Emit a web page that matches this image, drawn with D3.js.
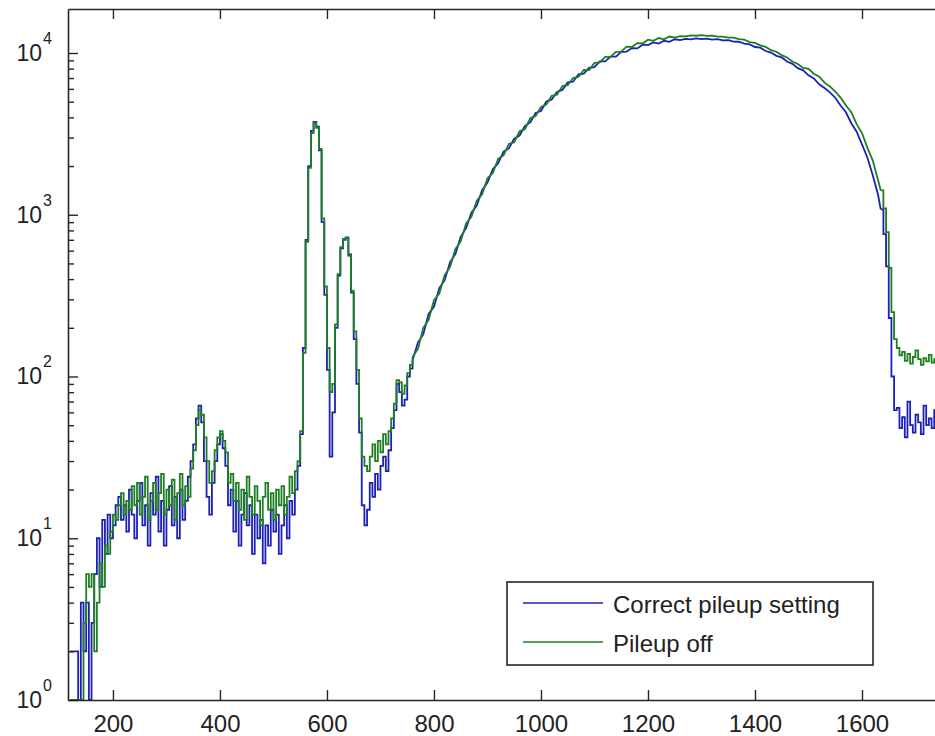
<!DOCTYPE html>
<html>
<head>
<meta charset="utf-8">
<script src="https://cdn.jsdelivr.net/npm/d3@7/dist/d3.min.js"></script>
<style>
  body { margin: 0; background: #fff; }
  svg { display: block; }
  text { font-family: Arial, "Liberation Sans", Helvetica, sans-serif; fill: #222; }
</style>
</head>
<body>
<svg id="chart" width="935" height="736"></svg>
<script>
// Channel bins: fine bins in the noisy low-energy part and the tail,
// coarser samples across the smooth continuum.
const lowBins  = d3.range(120, 760, 5);
const midBins  = d3.range(760, 1635, 10);
const tailBins = d3.range(1635, 1750, 5);

// Counts per bin, "Correct pileup setting"
const correctLow = [
  2, 2, 2, 1, 4, 2, 4, 1, 3, 6,
  10, 5, 13, 8, 14, 10, 12, 16, 18, 13,
  16, 11, 20, 14, 10, 17, 22, 12, 16, 9,
  19, 14, 24, 11, 17, 9, 15, 21, 12, 18,
  10, 20, 13, 17, 24, 30, 38, 55, 66, 52,
  30, 18, 14, 22, 30, 38, 44, 36, 28, 16,
  20, 11, 17, 9, 14, 19, 12, 16, 8, 14,
  10, 13, 7, 12, 9, 15, 11, 14, 8, 12,
  16, 10, 17, 14, 20, 28, 44, 150, 700, 2000,
  3300, 3750, 3500, 2500, 900, 320, 110, 32, 60, 200,
  420, 620, 700, 725, 560, 330, 170, 90, 45, 16,
  12, 15, 22, 18, 25, 20, 28, 32, 26, 35,
  48, 62, 90, 80, 66, 72, 100, 112
];
const correctMid = [
  126, 162, 182, 244, 270, 352, 394, 508, 570, 730,
  826, 1030, 1140, 1420, 1580, 1910, 2080, 2460, 2570, 2950,
  3090, 3540, 3720, 4260, 4380, 5010, 5150, 5740, 5910, 6580,
  6640, 7380, 7450, 8090, 8180, 8870, 8880, 9500, 9500, 10160,
  10200, 10720, 10680, 11250, 11200, 11640, 11430, 11900, 11720, 12160,
  12010, 12230, 12150, 12300, 12190, 12260, 12090, 12180, 11960, 11990,
  11760, 11740, 11410, 11290, 10890, 10780, 10290, 10060, 9600, 9390,
  8850, 8570, 8060, 7810, 7270, 6960, 6410, 6070, 5710, 5290,
  4740, 4300, 3680, 3260, 2720, 2260, 1760, 1330
];
const correctTail = [
  1080, 760, 480, 230, 100, 62, 64, 48, 56, 42,
  70, 50, 45, 58, 52, 44, 66, 50, 55, 48,
  62, 52, 50
];

// Counts per bin, "Pileup off"
const offLow = [
  1, 1, 1, 1, 1, 3, 6, 5, 6, 2,
  4, 7, 5, 9, 8, 11, 14, 13, 16, 19,
  14, 17, 15, 21, 16, 22, 14, 18, 24, 13,
  17, 22, 15, 19, 25, 14, 20, 16, 23, 13,
  19, 25, 16, 21, 18, 27, 35, 50, 62, 58,
  42, 30, 22, 26, 35, 42, 46, 40, 34, 22,
  25, 17, 22, 15, 20, 13, 24, 18, 14, 21,
  17, 12, 18, 22, 15, 19, 13, 20, 16, 21,
  14, 18, 24, 19, 26, 30, 46, 140, 680, 1950,
  3200, 3700, 3450, 2550, 950, 360, 150, 80, 90, 210,
  430, 630, 710, 720, 570, 340, 190, 110, 55, 32,
  28, 26, 32, 38, 30, 40, 34, 44, 38, 46,
  55, 68, 95, 92, 78, 88, 105, 118
];
const offMid = [
  132, 148, 200, 224, 296, 326, 424, 474, 612, 684,
  884, 970, 1222, 1340, 1680, 1810, 2220, 2330, 2740, 2810,
  3280, 3380, 3950, 4070, 4640, 4800, 5440, 5520, 6240, 6330,
  7010, 7110, 7870, 7840, 8680, 8760, 9450, 9470, 10160, 10200,
  10940, 10890, 11510, 11450, 12080, 11880, 12370, 12160, 12640, 12450,
  12720, 12680, 12850, 12780, 12900, 12760, 12810, 12620, 12640, 12450,
  12440, 12190, 12080, 11690, 11540, 11150, 10900, 10410, 10180, 9700,
  9390, 8860, 8560, 8090, 7990, 7450, 7130, 6560, 6210, 5780,
  5300, 4740, 4310, 3630, 3200, 2600, 2170, 1640
];
const offTail = [
  1413, 1096, 780, 470, 250, 170, 150, 135, 142, 125,
  138, 120, 132, 145, 128, 118, 130, 124, 136, 122,
  128, 132, 130
];

const seriesNames = ["Correct pileup setting", "Pileup off"];
const seriesColors = ["#1c20b4", "#1d7f22"];

const xTicks = [200, 400, 600, 800, 1000, 1200, 1400, 1600];
const yDecades = [1, 10, 100, 1000, 10000];
const yExponents = ["0", "1", "2", "3", "4"];

const series = [
  { low: correctLow, mid: correctMid, tail: correctTail },
  { low: offLow, mid: offMid, tail: offTail }
];

// ---- layout ----
const svg = d3.select("#chart");
const plotLeft = 68, plotTop = 9, plotBottom = 700, plotRight = 969;

const x = d3.scaleLinear().domain([116, 1800]).range([plotLeft, plotRight]);
const y = d3.scaleLog().domain([1, Math.pow(10, 4.272)]).range([plotBottom, plotTop]);

svg.append("defs").append("clipPath").attr("id", "plotClip")
  .append("rect")
  .attr("x", plotLeft).attr("y", plotTop)
  .attr("width", plotRight - plotLeft).attr("height", plotBottom - plotTop);

// ---- spectra ----
// Noisy parts are drawn as histogram stairs, the smooth continuum as a polyline.
const stairs = d3.line()
  .x(d => x(d[0]))
  .y(d => y(Math.max(1, d[1])))
  .curve(d3.curveStepAfter);
const smooth = d3.line()
  .x(d => x(d[0]))
  .y(d => y(Math.max(1, d[1])))
  .curve(d3.curveLinear);

const pair = (bins, vals) => bins.map((e, k) => [e, vals[k]]);

const plot = svg.append("g").attr("clip-path", "url(#plotClip)");
series.forEach((s, i) => {
  const lowPts  = pair(lowBins, s.low).concat([[midBins[0], s.mid[0]]]);
  const midPts  = pair(midBins, s.mid).concat([[tailBins[0], s.tail[0]]]);
  const tailPts = pair(tailBins, s.tail);
  const g = plot.append("g")
    .attr("fill", "none")
    .attr("stroke", seriesColors[i])
    .attr("stroke-width", 1.8);
  g.append("path").datum(lowPts).attr("d", stairs);
  g.append("path").datum(midPts).attr("d", smooth);
  g.append("path").datum(tailPts).attr("d", stairs);
});

// ---- axes ----
const axisColor = "#262626";
function styleAxis(g) {
  g.select(".domain").attr("stroke", axisColor).attr("stroke-width", 1.6);
  g.selectAll(".tick line").attr("stroke", axisColor).attr("stroke-width", 1.4);
}

// bottom
const gx = svg.append("g")
  .attr("transform", `translate(0,${plotBottom})`)
  .call(d3.axisBottom(x).tickValues(xTicks).tickSizeInner(-10).tickSizeOuter(0).tickPadding(15)
    .tickFormat(d3.format("d")));
styleAxis(gx);
gx.selectAll(".tick text")
  .attr("font-size", 24)
  .attr("font-family", "Arial, 'Liberation Sans', sans-serif")
  .attr("fill", "#222");

// top (box)
const gxTop = svg.append("g")
  .attr("transform", `translate(0,${plotTop})`)
  .call(d3.axisTop(x).tickValues(xTicks).tickSizeInner(-10).tickSizeOuter(0).tickFormat(""));
styleAxis(gxTop);

// left, major decades
const gy = svg.append("g")
  .attr("transform", `translate(${plotLeft},0)`)
  .call(d3.axisLeft(y).tickValues(yDecades).tickSizeInner(-10).tickSizeOuter(0).tickFormat(""));
styleAxis(gy);

// left, minor ticks
const minors = [];
yDecades.forEach(d => { for (let m = 2; m <= 9; m++) if (d * m <= y.domain()[1]) minors.push(d * m); });
const gyMinor = svg.append("g")
  .attr("transform", `translate(${plotLeft},0)`)
  .call(d3.axisLeft(y).tickValues(minors).tickSizeInner(-6).tickSizeOuter(0).tickFormat(""));
styleAxis(gyMinor);
gyMinor.select(".domain").remove();

// decade labels with superscript exponents
yDecades.forEach((d, i) => {
  const ty = y(d);
  svg.append("text")
    .attr("x", 42).attr("y", ty + 8)
    .attr("text-anchor", "end")
    .attr("font-size", 23)
    .text("10");
  svg.append("text")
    .attr("x", 43).attr("y", ty - 9)
    .attr("font-size", 16)
    .text(yExponents[i]);
});

// ---- legend ----
const lg = svg.append("g");
lg.append("rect")
  .attr("x", 507).attr("y", 582).attr("width", 366).attr("height", 83)
  .attr("fill", "#fff").attr("stroke", axisColor).attr("stroke-width", 1.6);
const legendRows = [603, 642];
seriesNames.forEach((name, i) => {
  lg.append("line")
    .attr("x1", 523).attr("x2", 603)
    .attr("y1", legendRows[i]).attr("y2", legendRows[i])
    .attr("stroke", seriesColors[i]).attr("stroke-width", 1.6);
  lg.append("text")
    .attr("x", 613).attr("y", legendRows[i] + 10)
    .attr("font-size", 24)
    .text(name);
});
</script>
</body>
</html>
